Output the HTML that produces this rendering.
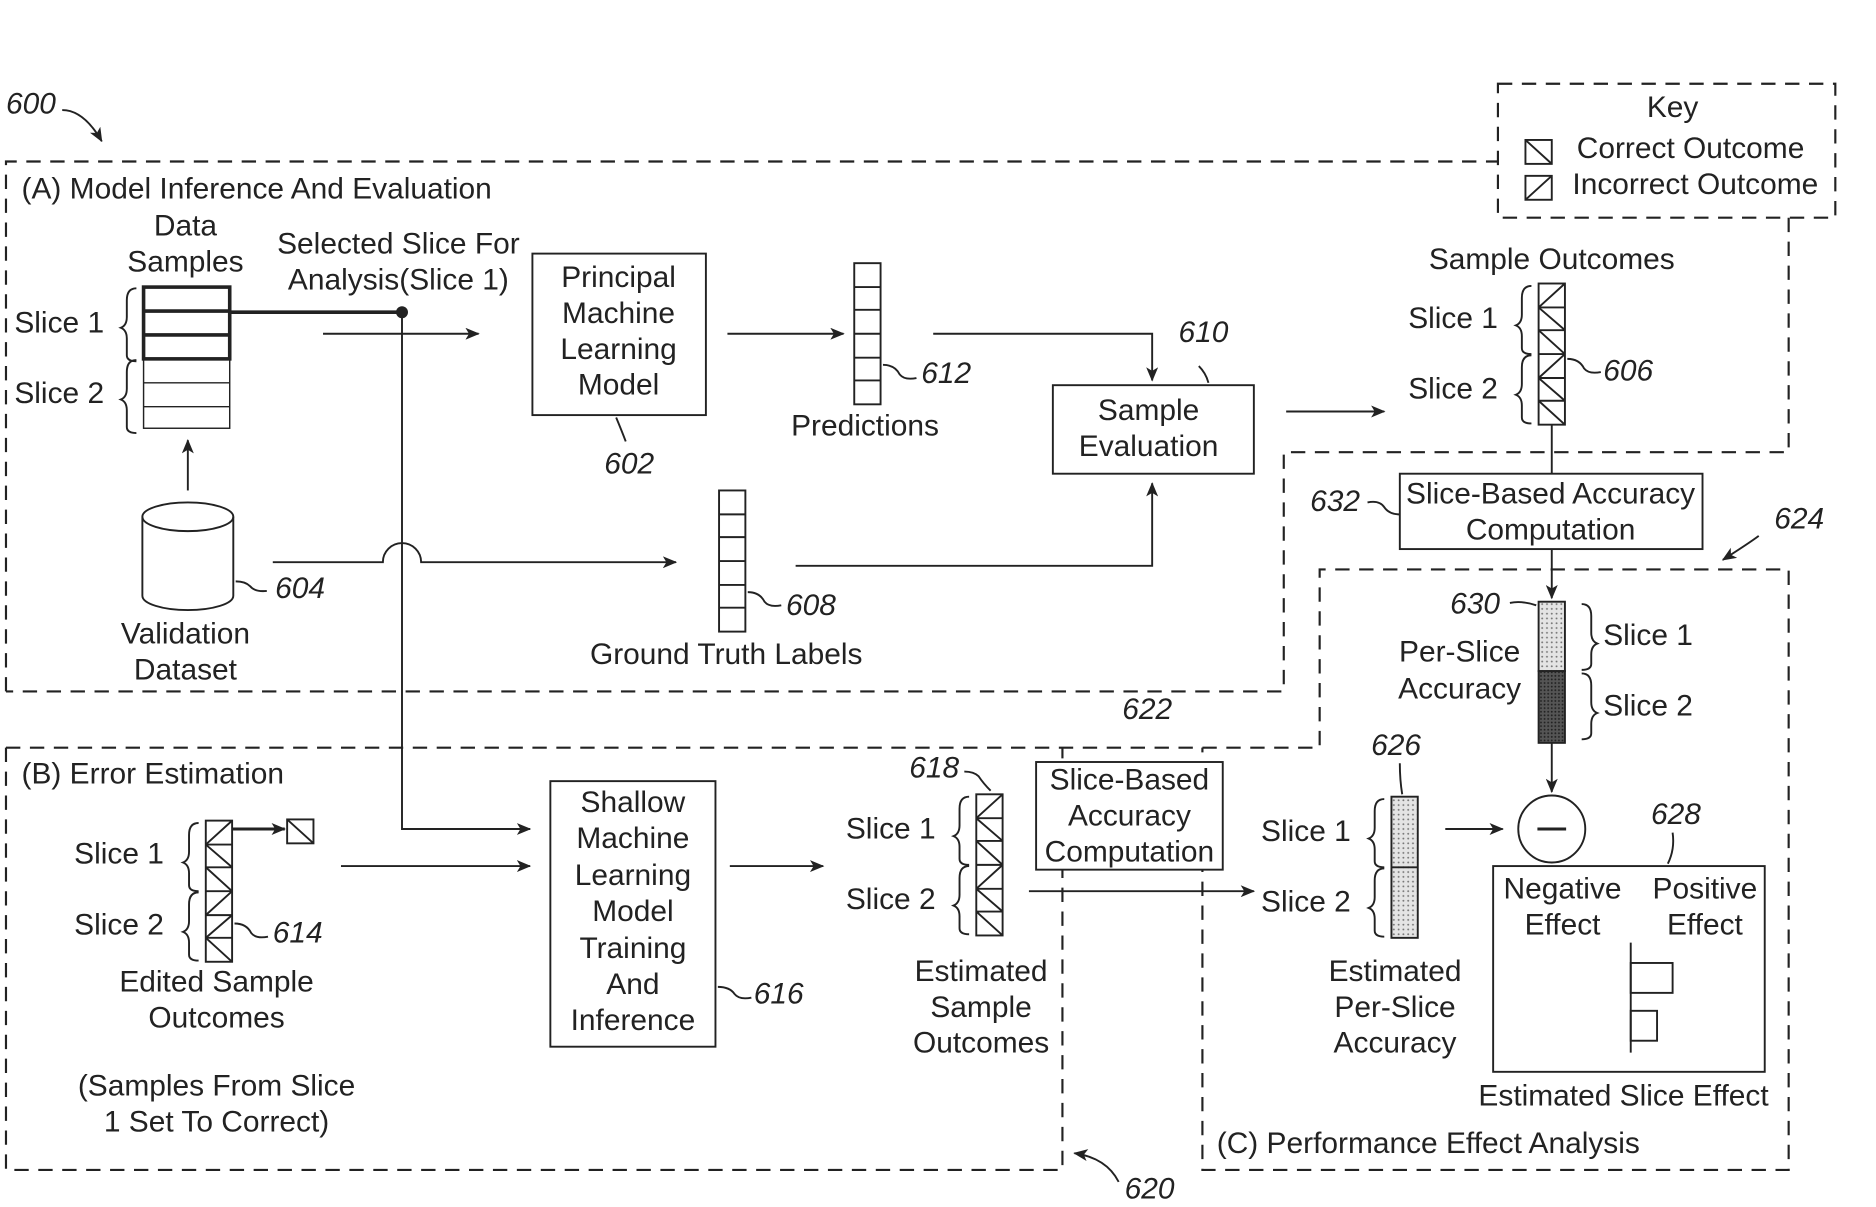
<!DOCTYPE html>
<html><head><meta charset="utf-8"><style>
html,body{margin:0;padding:0;background:#fff}
svg{display:block}
text{font-family:"Liberation Sans",Arial,sans-serif;font-size:25px;fill:#222}
.c{text-anchor:middle}
.i{font-style:italic}
</style></head><body>
<svg width="1876" height="1207" viewBox="0 0 1568 1009" preserveAspectRatio="none" xmlns="http://www.w3.org/2000/svg">
<defs>
<marker id="a" markerWidth="12" markerHeight="10" refX="11" refY="5" orient="auto" markerUnits="userSpaceOnUse"><path d="M0,0 L12,5 L0,10 L3,5 z" fill="#222"/></marker>
<pattern id="dl" width="4" height="4" patternUnits="userSpaceOnUse"><rect width="4" height="4" fill="#e4e4e4"/><circle cx="1" cy="1" r="0.8" fill="#777"/></pattern>
<pattern id="dd" width="3" height="3" patternUnits="userSpaceOnUse"><rect width="3" height="3" fill="#555"/><circle cx="1" cy="1" r="0.8" fill="#222"/></pattern>
</defs>
<g fill="none" stroke="#222" stroke-width="1.6">
<g stroke-dasharray="12,8" stroke-width="1.8">
<rect x="1252" y="70" width="282" height="112"/>
<path d="M5,578 V135 H1252 M1495,182 V378 H1073 V578 H5"/>
<path d="M5,625 H1103 V476 H1495 V978 H1005 V625"/>
<path d="M5,625 V978 H888 V625"/>
</g>
<path d="M52,92 Q70,92 85,118" marker-end="url(#a)"/>
<rect x="1275" y="117" width="22" height="20"/><path d="M1275,117 L1297,137"/>
<rect x="1275" y="147" width="22" height="20"/><path d="M1275,167 L1297,147"/>
<rect x="120" y="300" width="72" height="58" stroke-width="1.2"/>
<path d="M120,320 H192 M120,340 H192" stroke-width="1.2"/>
<rect x="120" y="240" width="72" height="60" stroke-width="3"/>
<path d="M120,260 H192 M120,280 H192" stroke-width="3"/>
<path d="M114,241 q-8,0 -8,10 v14 q0,7 -5,9 q5,2 5,9 v14 q0,5 8,5"/>
<path d="M114,301 q-8,0 -8,10 v14 q0,7 -5,9 q5,2 5,9 v14 q0,5 8,5"/>
<path d="M192,261 H336" stroke-width="3"/>
<path d="M270,279 H400" marker-end="url(#a)"/>
<path d="M336,261 V693 H443" marker-end="url(#a)"/>
<rect x="445" y="212" width="145" height="135"/>
<path d="M515,349 q5,12 8,20"/>
<path d="M608,279 H705" marker-end="url(#a)"/>
<rect x="714" y="220" width="22" height="118"/>
<path d="M714,240 H736 M714,259 H736 M714,279 H736 M714,299 H736 M714,318 H736"/>
<path d="M738,305 q10,0 14,8 q4,5 14,3"/>
<path d="M780,279 H963 V318" marker-end="url(#a)"/>
<rect x="880" y="322" width="168" height="74"/>
<path d="M1010,320 q-2,-8 -8,-14"/>
<path d="M1075,344 H1157" marker-end="url(#a)"/>
<rect x="1286" y="237" width="22" height="118"/>
<path d="M1286,257 H1308 M1286,276 H1308 M1286,296 H1308 M1286,316 H1308 M1286,335 H1308"/>
<path d="M1308,237 L1286,257 M1286,257 L1308,276 M1286,276 L1308,296 M1308,296 L1286,316 M1286,316 L1308,335 M1286,335 L1308,355"/>
<path d="M1280,239 q-8,0 -8,10 v14 q0,7 -5,9 q5,2 5,9 v10 q0,5 8,5"/>
<path d="M1280,297 q-8,0 -8,10 v14 q0,7 -5,9 q5,2 5,9 v10 q0,5 8,5"/>
<path d="M1310,300 q10,0 14,8 q4,5 14,3"/>
<path d="M1297,355 V396"/>
<rect x="1170" y="396" width="253" height="63"/>
<path d="M1143,420 q10,-2 14,4 q4,6 13,6"/>
<path d="M1297,459 V500" marker-end="url(#a)"/>
<path d="M1470,448 q-8,6 -30,20" marker-end="url(#a)"/>
<path d="M119,432 V498 A38,12 0 0 0 195,498 V432"/>
<ellipse cx="157" cy="432" rx="38" ry="12"/>
<path d="M157,410 V368" marker-end="url(#a)"/>
<path d="M197,486 q8,0 12,4 q4,5 14,4"/>
<path d="M228,470 H320 A16,16 0 0 1 352,470 H565" marker-end="url(#a)"/>
<rect x="601" y="410" width="22" height="118"/>
<path d="M601,430 H623 M601,449 H623 M601,469 H623 M601,489 H623 M601,508 H623"/>
<path d="M625,495 q10,0 14,8 q4,5 14,3"/>
<path d="M665,473 H963 V404" marker-end="url(#a)"/>
<rect x="1286" y="503" width="22" height="58" fill="url(#dl)"/>
<rect x="1286" y="561" width="22" height="60" fill="url(#dd)"/>
<path d="M1262,504 q10,-2 22,2"/>
<path d="M1322,505 q8,0 8,10 v14 q0,7 5,9 q-5,2 -5,9 v8 q0,5 -8,5"/>
<path d="M1322,563 q8,0 8,10 v14 q0,7 5,9 q-5,2 -5,9 v8 q0,5 -8,5"/>
<path d="M1297,621 V662" marker-end="url(#a)"/>
<circle cx="1297" cy="693" r="28"/>
<path d="M1285,693 H1309" stroke-width="2.5"/>
<path d="M1398,696 q2,14 -4,26"/>
<rect x="1248" y="724" width="227" height="172"/>
<path d="M1363,788 V880"/>
<rect x="1363" y="805" width="35" height="25"/>
<rect x="1363" y="845" width="22" height="25"/>
<rect x="172" y="686" width="22" height="118"/>
<path d="M172,706 H194 M172,725 H194 M172,745 H194 M172,765 H194 M172,784 H194"/>
<path d="M194,686 L172,706 M172,706 L194,725 M172,725 L194,745 M194,745 L172,765 M194,765 L172,784 M172,784 L194,804"/>
<path d="M166,688 q-8,0 -8,10 v14 q0,7 -5,9 q5,2 5,9 v10 q0,5 8,5"/>
<path d="M166,746 q-8,0 -8,10 v14 q0,7 -5,9 q5,2 5,9 v10 q0,5 8,5"/>
<path d="M194,693 H238" marker-end="url(#a)" stroke-width="2.5"/>
<rect x="240" y="685" width="22" height="20"/><path d="M240,685 L262,705"/>
<path d="M196,772 q10,0 14,8 q4,5 14,3"/>
<path d="M285,724 H443" marker-end="url(#a)"/>
<rect x="460" y="653" width="138" height="222"/>
<path d="M600,825 q10,0 14,6 q4,5 14,3"/>
<path d="M610,724 H688" marker-end="url(#a)"/>
<rect x="816" y="664" width="22" height="118"/>
<path d="M816,684 H838 M816,703 H838 M816,723 H838 M816,743 H838 M816,762 H838"/>
<path d="M838,664 L816,684 M816,684 L838,703 M816,703 L838,723 M838,723 L816,743 M816,743 L838,762 M816,762 L838,782"/>
<path d="M806,645 q8,0 12,4 q4,6 10,12"/>
<path d="M810,666 q-8,0 -8,10 v14 q0,7 -5,9 q5,2 5,9 v10 q0,5 8,5"/>
<path d="M810,724 q-8,0 -8,10 v14 q0,7 -5,9 q5,2 5,9 v10 q0,5 8,5"/>
<rect x="866" y="637" width="156" height="90" fill="#fff"/>
<path d="M860,745 H1048" marker-end="url(#a)"/>
<rect x="1163" y="666" width="22" height="118" fill="url(#dl)"/>
<path d="M1163,725 H1185"/>
<path d="M1157,668 q-8,0 -8,10 v14 q0,7 -5,9 q5,2 5,9 v10 q0,5 8,5"/>
<path d="M1157,726 q-8,0 -8,10 v14 q0,7 -5,9 q5,2 5,9 v10 q0,5 8,5"/>
<path d="M1170,638 q0,14 2,26"/>
<path d="M1208,693 H1256" marker-end="url(#a)"/>
<path d="M935,988 q-10,-20 -37,-24" marker-end="url(#a)"/>
</g>
<circle cx="336" cy="261" r="5" fill="#222"/>
<text x="5" y="95" class="i">600</text>
<text x="1398" y="98" class="c">Key</text>
<text x="1413" y="132" class="c">Correct Outcome</text>
<text x="1417" y="162" class="c">Incorrect Outcome</text>
<text x="18" y="166">(A) Model Inference And Evaluation</text>
<text x="155" y="197" class="c">Data</text>
<text x="155" y="227" class="c">Samples</text>
<text x="12" y="278">Slice 1</text>
<text x="12" y="337">Slice 2</text>
<text x="333" y="212" class="c">Selected Slice For</text>
<text x="333" y="242" class="c">Analysis(Slice 1)</text>
<text x="517" y="240" class="c">Principal</text>
<text x="517" y="270" class="c">Machine</text>
<text x="517" y="300" class="c">Learning</text>
<text x="517" y="330" class="c">Model</text>
<text x="505" y="396" class="i">602</text>
<text x="770" y="320" class="i">612</text>
<text x="723" y="364" class="c">Predictions</text>
<text x="985" y="286" class="i">610</text>
<text x="960" y="351" class="c">Sample</text>
<text x="960" y="381" class="c">Evaluation</text>
<text x="1297" y="225" class="c">Sample Outcomes</text>
<text x="1177" y="274">Slice 1</text>
<text x="1177" y="333">Slice 2</text>
<text x="1340" y="318" class="i">606</text>
<text x="1095" y="427" class="i">632</text>
<text x="1296" y="421" class="c">Slice-Based Accuracy</text>
<text x="1296" y="451" class="c">Computation</text>
<text x="1483" y="442" class="i">624</text>
<text x="230" y="500" class="i">604</text>
<text x="155" y="538" class="c">Validation</text>
<text x="155" y="568" class="c">Dataset</text>
<text x="657" y="514" class="i">608</text>
<text x="607" y="555" class="c">Ground Truth Labels</text>
<text x="1212" y="513" class="i">630</text>
<text x="1220" y="553" class="c">Per-Slice</text>
<text x="1220" y="584" class="c">Accuracy</text>
<text x="1340" y="539">Slice 1</text>
<text x="1340" y="598">Slice 2</text>
<text x="1380" y="689" class="i">628</text>
<text x="1306" y="751" class="c">Negative</text>
<text x="1306" y="781" class="c">Effect</text>
<text x="1425" y="751" class="c">Positive</text>
<text x="1425" y="781" class="c">Effect</text>
<text x="1357" y="924" class="c">Estimated Slice Effect</text>
<text x="1017" y="964">(C) Performance Effect Analysis</text>
<text x="18" y="655">(B) Error Estimation</text>
<text x="62" y="722">Slice 1</text>
<text x="62" y="781">Slice 2</text>
<text x="228" y="788" class="i">614</text>
<text x="181" y="829" class="c">Edited Sample</text>
<text x="181" y="859" class="c">Outcomes</text>
<text x="181" y="916" class="c">(Samples From Slice</text>
<text x="181" y="946" class="c">1 Set To Correct)</text>
<text x="529" y="679" class="c">Shallow</text>
<text x="529" y="709" class="c">Machine</text>
<text x="529" y="740" class="c">Learning</text>
<text x="529" y="770" class="c">Model</text>
<text x="529" y="801" class="c">Training</text>
<text x="529" y="831" class="c">And</text>
<text x="529" y="861" class="c">Inference</text>
<text x="630" y="839" class="i">616</text>
<text x="760" y="650" class="i">618</text>
<text x="707" y="701">Slice 1</text>
<text x="707" y="760">Slice 2</text>
<text x="820" y="820" class="c">Estimated</text>
<text x="820" y="850" class="c">Sample</text>
<text x="820" y="880" class="c">Outcomes</text>
<text x="938" y="601" class="i">622</text>
<text x="944" y="660" class="c">Slice-Based</text>
<text x="944" y="690" class="c">Accuracy</text>
<text x="944" y="720" class="c">Computation</text>
<text x="1146" y="631" class="i">626</text>
<text x="1054" y="703">Slice 1</text>
<text x="1054" y="762">Slice 2</text>
<text x="1166" y="820" class="c">Estimated</text>
<text x="1166" y="850" class="c">Per-Slice</text>
<text x="1166" y="880" class="c">Accuracy</text>
<text x="940" y="1002" class="i">620</text>
</svg>
</body></html>
